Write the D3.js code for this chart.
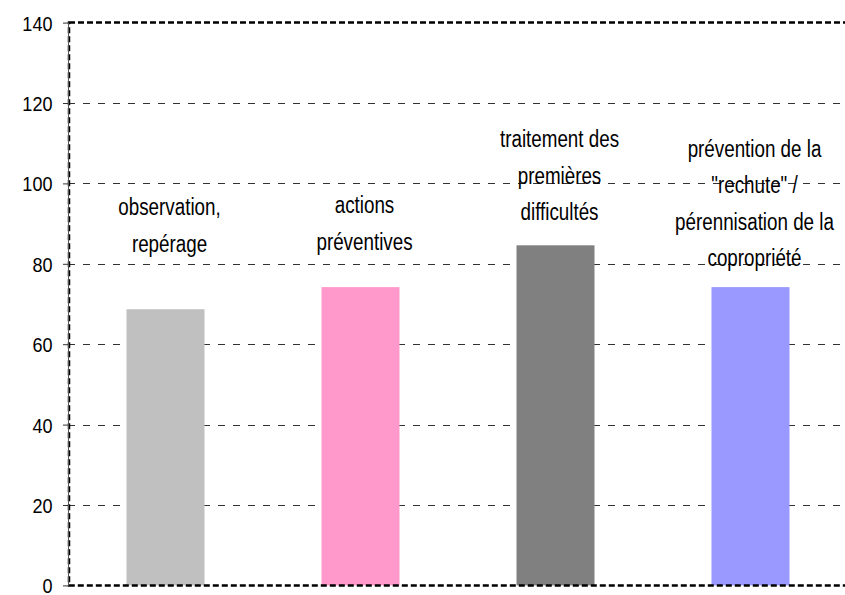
<!DOCTYPE html>
<html>
<head>
<meta charset="utf-8">
<script src="https://cdn.jsdelivr.net/npm/d3@7"></script>
<style>
  body { margin: 0; background: #fff; }
  svg { display: block; }
</style>
</head>
<body>
<script>
// data
let categories = ['observation, repérage', 'actions préventives', 'traitement des premières difficultés', 'prévention de la "rechute" / pérennisation de la copropriété']
let labelLines = [
  ['observation,', 'repérage'],
  ['actions', 'préventives'],
  ['traitement des', 'premières', 'difficultés'],
  ['prévention de la', '"rechute" /', 'pérennisation de la', 'copropriété']
]
let values = [68.7, 74.2, 84.6, 74.2]
let colors = ['#C0C0C0', '#FF99CC', '#808080', '#9999FF']
let yTicks = [0, 20, 40, 60, 80, 100, 120, 140]

let W = 845, H = 595
let pLeft = 68, pRight = 848, pTop = 22.6, pBottom = 585.4
// first baseline of each label, in value units
let labelTop = [92.1, 92.6, 109, 106.6]
let lineGap = 36.5
let font = '"Liberation Sans", Arial, sans-serif'

let svg = d3.select('body').append('svg').attr('width', W).attr('height', H)

let x = d3.scaleBand().domain(categories).range([pLeft, pRight]).paddingInner(0.6).paddingOuter(0.3)
let y = d3.scaleLinear().domain([0, 140]).range([pBottom, pTop])

// grid
svg.append('g').selectAll('line').data(yTicks.filter(function (d) { return d > 0 && d < 140 })).enter().append('line')
  .attr('x1', pLeft).attr('x2', pRight)
  .attr('y1', function (d) { return Math.round(y(d)) + 0.5 }).attr('y2', function (d) { return Math.round(y(d)) + 0.5 })
  .attr('stroke', '#333').attr('stroke-width', 1).attr('stroke-dasharray', '7,8')

// bars
svg.append('g').selectAll('rect').data(values).enter().append('rect')
  .attr('x', function (d, i) { return x(categories[i]) })
  .attr('width', x.bandwidth())
  .attr('y', function (d) { return y(d) })
  .attr('height', function (d) { return y(0) - y(d) })
  .attr('fill', function (d, i) { return colors[i] })

// plot border (dotted)
svg.append('rect')
  .attr('x', pLeft + 1).attr('y', pTop).attr('width', pRight - pLeft - 1).attr('height', pBottom - pTop)
  .attr('fill', 'none').attr('stroke', '#000').attr('stroke-width', 2.5).attr('stroke-dasharray', '6,3')

// y axis
let yAxis = d3.axisLeft(y).tickValues(yTicks).tickSize(5).tickPadding(0).tickFormat(function () { return '' })
let ga = svg.append('g').attr('transform', 'translate(' + pLeft + ',0)').call(yAxis)
ga.select('.domain').attr('stroke', '#555').attr('d', 'M0.5,' + pTop + 'V' + pBottom)
ga.selectAll('.tick line').attr('stroke', '#333')
ga.selectAll('.tick').append('text')
  .attr('transform', 'translate(-15.5,0) scale(0.86,1)')
  .attr('x', 0).attr('dy', '0.36em')
  .attr('text-anchor', 'end')
  .attr('font-family', font).attr('font-size', 21).attr('fill', '#000')
  .text(function (d) { return d })

// category labels
let lg = svg.append('g')
labelLines.forEach(function (lines, i) {
  let cx = x(categories[i]) + x.bandwidth() / 2 + 4
  let t = lg.append('text')
    .attr('transform', 'translate(' + cx + ',' + y(labelTop[i]) + ') scale(0.8,1)')
    .attr('text-anchor', 'middle')
    .attr('font-family', font)
    .attr('font-size', 23.5)
    .attr('fill', '#000')
  lines.forEach(function (s, j) {
    t.append('tspan')
      .attr('x', 0)
      .attr('y', j * lineGap)
      .text(s)
  })
})
</script>
</body>
</html>
